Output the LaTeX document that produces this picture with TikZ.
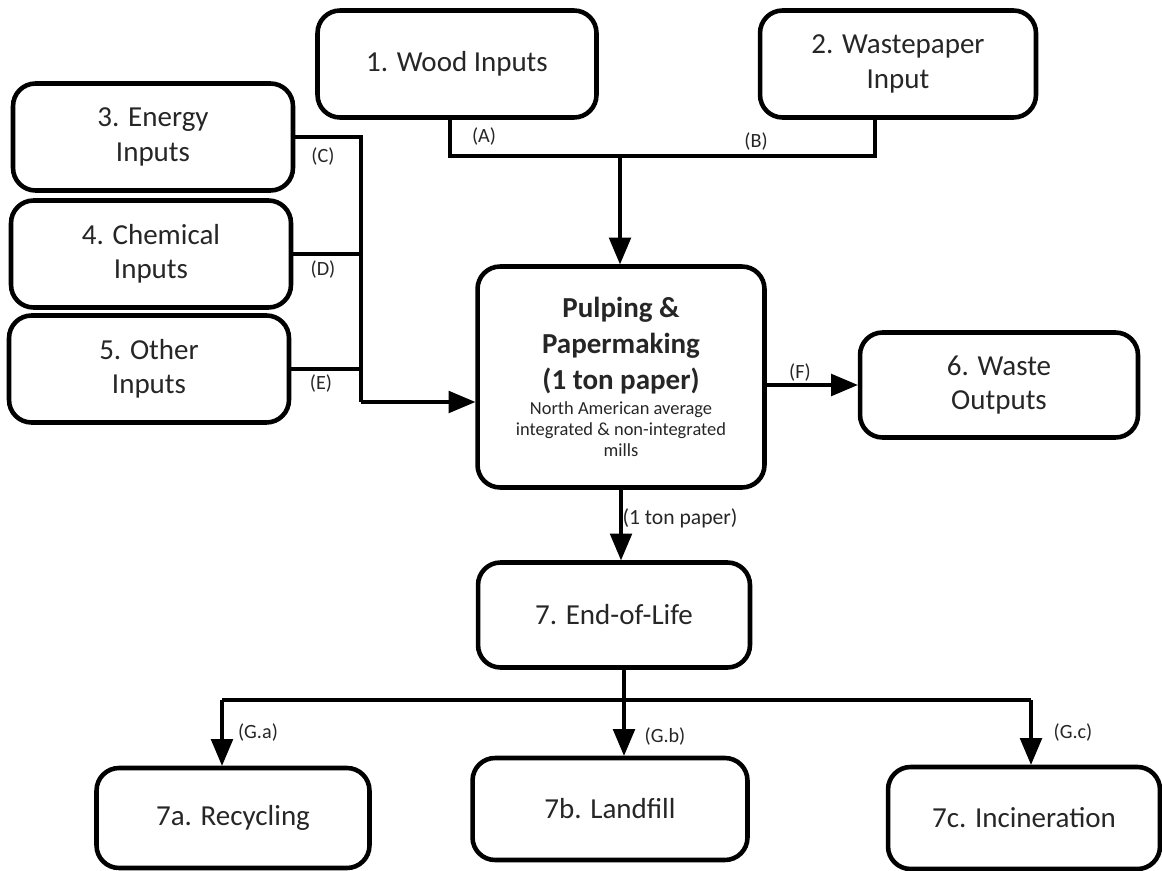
\documentclass[tikz,border=0pt]{standalone}
\usepackage{fontspec}
\setmainfont{Carlito}
\usepackage{tikz}
\usetikzlibrary{arrows, calc, positioning}

\newcommand{\bigline}{\bfseries\fontsize{16.5}{20.4}\selectfont}
\newcommand{\smallline}{\mdseries\fontsize{10.5}{12}\selectfont}

\tikzset{
  box/.style={draw, line width=2.6pt, rounded corners=0.45cm, align=center,
    text=black!85, font=\fontsize{16.5}{19.5}\selectfont, inner sep=2pt},
  flow/.style={line width=2.6pt},
  lbl/.style={text=black!85, font=\fontsize{11.5}{13}\selectfont, inner sep=1pt}
}

\begin{document}
\begin{tikzpicture}[>=triangle 45, x=0.02cm, y=-0.02cm]
\useasboundingbox (0,0) rectangle (1162,871);

\node[box, minimum width=5.58cm, minimum height=2.14cm] (wood) at (457,64) {1. Wood Inputs};
\node[box, minimum width=5.52cm, minimum height=2.14cm] (wastepaper) at (898,64) {2. Wastepaper\\Input};
\node[box, minimum width=5.6cm, minimum height=2.14cm] (energy) at (153,137) {3. Energy\\Inputs};
\node[box, minimum width=5.6cm, minimum height=2.14cm] (chemical) at (151,254) {4. Chemical\\Inputs};
\node[box, minimum width=5.6cm, minimum height=2.14cm] (other) at (149,369) {5. Other\\Inputs};
\node[box, align=flush center, text width=5.4cm, minimum width=5.74cm, minimum height=4.42cm] (pulp) at (621,377)
  {{\bigline Pulping \&\\Papermaking\\(1 ton paper)\par}\vspace{2.5pt}{\smallline North American average\\integrated \& non-integrated\\mills\par}};
\node[box, minimum width=5.56cm, minimum height=2.1cm] (wasteout) at (999,385) {6. Waste\\Outputs};
\node[box, minimum width=5.44cm, minimum height=2.1cm] (eol) at (614,615) {7. End-of-Life};
\node[box, minimum width=5.46cm, minimum height=2cm] (recyc) at (233,818) {7a. Recycling};
\node[box, minimum width=5.5cm, minimum height=2.04cm] (landfill) at (610,809) {7b. Landfill};
\node[box, minimum width=5.44cm, minimum height=2.04cm] (incin) at (1024,818) {7c. Incineration};

\coordinate (colA) at (450,156); \coordinate (colB) at (875,156); \coordinate (jab) at (620,156);
\draw[flow] (wood.south -| colA) -- (colA) -- (colB) -- (wastepaper.south -| colB);
\draw[flow,->] (jab) -- (jab |- pulp.north);

\coordinate (bus) at (361,402);
\draw[flow] (energy.east) -| (bus);
\draw[flow] (chemical.east) -- (chemical.east -| bus);
\draw[flow] (other.east) -- (other.east -| bus);
\draw[flow,->] (bus) -- (pulp.west |- bus);

\draw[flow,->] (pulp.east |- wasteout.west) -- (wasteout.west);
\draw[flow,->] (pulp.south) -- (pulp.south |- eol.north);

\coordinate (split) at (624,700); \coordinate (ga) at (222,700); \coordinate (gc) at (1031,700);
\draw[flow] (eol.south -| split) -- (split);
\draw[flow] (ga) -- (gc);
\draw[flow,->] (ga) -- (ga |- recyc.north);
\draw[flow,->] (split) -- (split |- landfill.north);
\draw[flow,->] (gc) -- (gc |- incin.north);

\node[lbl] (la) at (484,137) {(A)};
\node[lbl] (lb) at (756,142) {(B)};
\node[lbl] (lc) at (323,157) {(C)};
\node[lbl] (ld) at (323,270) {(D)};
\node[lbl] (le) at (321,384) {(E)};
\node[lbl] (lf) at (800,373) {(F)};
\node[lbl, font=\fontsize{12.3}{14}\selectfont] (lp) at (680,518) {(1 ton paper)};
\node[lbl] (lga) at (258,733) {(G.a)};
\node[lbl] (lgb) at (665,737) {(G.b)};
\node[lbl] (lgc) at (1073,733) {(G.c)};
\end{tikzpicture}
\end{document}
